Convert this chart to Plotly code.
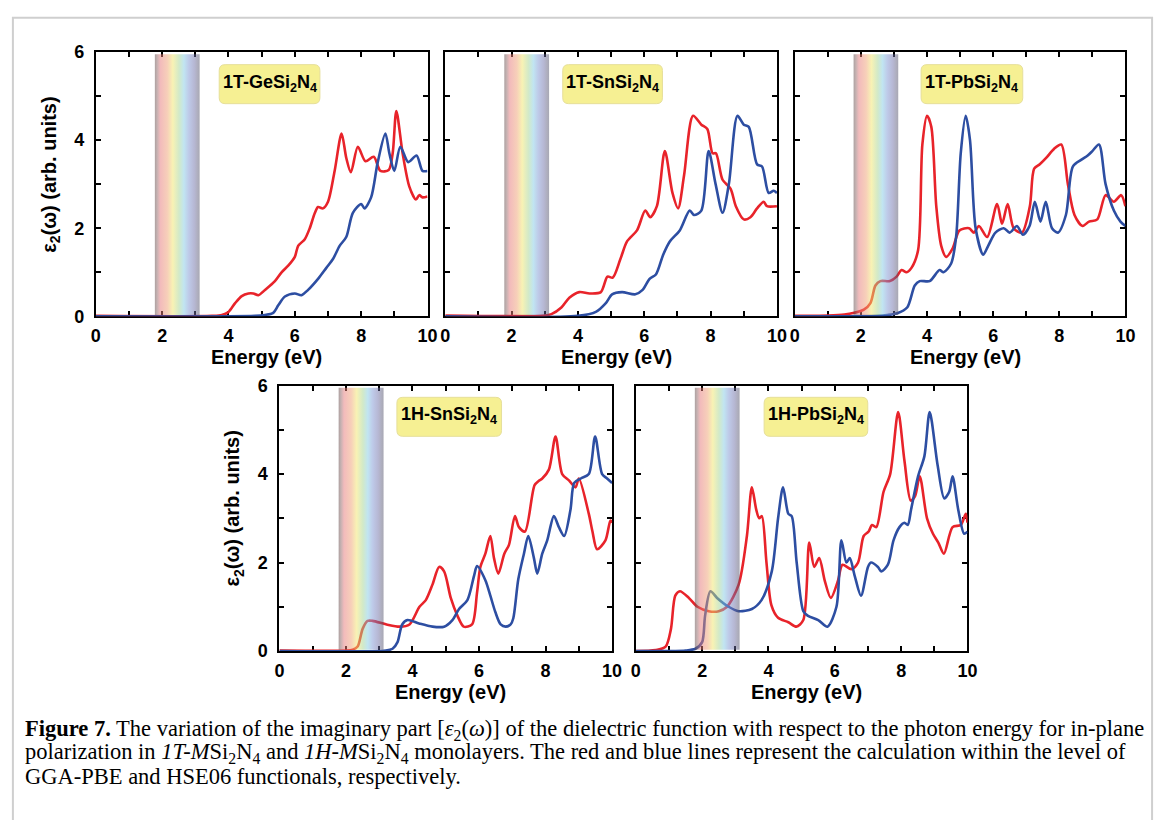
import plotly.graph_objects as go

# ---------------- data ----------------
energy_ticks = [0, 2, 4, 6, 8, 10]
eps_ticks = [0, 2, 4, 6]
panel_labels = ["1T-GeSi<sub>2</sub>N<sub>4</sub>", "1T-SnSi<sub>2</sub>N<sub>4</sub>",
                "1T-PbSi<sub>2</sub>N<sub>4</sub>", "1H-SnSi<sub>2</sub>N<sub>4</sub>",
                "1H-PbSi<sub>2</sub>N<sub>4</sub>"]
visible_band = [1.78, 3.13]   # eV, visible-light window

# 1T-GeSi2N4
ge1t_pbe_e = [0, 3.5, 3.8, 4.0, 4.2, 4.4, 4.6, 4.75, 4.9, 5.1, 5.4, 5.6, 5.8, 6.0, 6.1, 6.3, 6.45, 6.6, 6.7,
              6.85, 7.0, 7.2, 7.41, 7.55, 7.69, 7.9, 8.13, 8.38, 8.58, 8.83, 8.95, 9.06, 9.25, 9.45, 9.65,
              9.75, 9.85, 10.0]
ge1t_pbe_eps = [0.01, 0.01, 0.03, 0.1, 0.3, 0.46, 0.52, 0.52, 0.48, 0.6, 0.8, 1.0, 1.15, 1.35, 1.6, 1.75, 2.0,
                2.34, 2.48, 2.45, 2.6, 3.3, 4.15, 3.6, 3.27, 3.85, 3.52, 3.62, 3.3, 3.32, 3.7, 4.66, 3.7, 2.95,
                2.65, 2.75, 2.7, 2.72]
ge1t_hse_e = [0, 4.8, 5.1, 5.35, 5.5, 5.7, 6.0, 6.2, 6.4, 6.7, 6.95, 7.15, 7.35, 7.55, 7.75, 8.0, 8.1, 8.3,
              8.5, 8.73, 8.85, 9.0, 9.18, 9.42, 9.67, 9.85, 10.0]
ge1t_hse_eps = [0.0, 0.01, 0.03, 0.08, 0.25, 0.45, 0.52, 0.48, 0.6, 0.85, 1.1, 1.3, 1.6, 1.8, 2.35, 2.55, 2.45,
                2.7, 3.5, 4.15, 3.7, 3.3, 3.85, 3.5, 3.65, 3.3, 3.3]

# 1T-SnSi2N4
sn1t_pbe_e = [0, 3.0, 3.2, 3.5, 3.74, 4.04, 4.35, 4.69, 4.89, 5.05, 5.28, 5.48, 5.78, 6.03, 6.18, 6.38, 6.62,
              6.85, 7.02, 7.2, 7.47, 7.72, 7.9, 8.06, 8.16, 8.36, 8.6, 8.76, 9.0, 9.2, 9.4, 9.6, 9.7, 10.0]
sn1t_pbe_eps = [0.02, 0.02, 0.05, 0.2, 0.42, 0.55, 0.52, 0.55, 0.9, 0.88, 1.3, 1.7, 1.95, 2.4, 2.25, 2.5, 3.75,
                2.8, 2.45, 3.2, 4.55, 4.35, 4.25, 3.7, 3.7, 3.1, 2.9, 2.5, 2.2, 2.25, 2.45, 2.6, 2.5, 2.5]
sn1t_hse_e = [0, 4.0, 4.54, 4.84, 5.03, 5.33, 5.73, 5.95, 6.16, 6.35, 6.57, 6.77, 7.07, 7.37, 7.5, 7.72, 7.94,
              8.15, 8.36, 8.55, 8.81, 9.0, 9.15, 9.4, 9.55, 9.75, 9.9, 10.0]
sn1t_hse_eps = [0.0, 0.01, 0.1, 0.3, 0.5, 0.55, 0.5, 0.6, 0.85, 0.95, 1.4, 1.7, 1.95, 2.4, 2.3, 2.4, 3.75, 3.0,
                2.35, 3.0, 4.55, 4.35, 4.3, 3.45, 3.4, 2.8, 2.85, 2.8]

# 1T-PbSi2N4
pb1t_pbe_e = [0, 1.0, 1.5, 1.8, 2.09, 2.29, 2.44, 2.59, 2.88, 3.08, 3.23, 3.38, 3.53, 3.73, 3.86, 4.0, 4.13,
              4.28, 4.43, 4.58, 4.78, 4.98, 5.27, 5.42, 5.57, 5.82, 6.12, 6.27, 6.44, 6.62, 6.87, 7.11, 7.24,
              7.41, 7.61, 7.84, 8.06, 8.26, 8.46, 8.7, 8.9, 9.15, 9.4, 9.65, 9.87, 10.0]
pb1t_pbe_eps = [0.01, 0.02, 0.04, 0.08, 0.15, 0.3, 0.7, 0.8, 0.8, 0.9, 1.05, 1.0, 1.1, 1.5, 3.9, 4.55, 4.3, 2.5,
                1.6, 1.35, 1.55, 1.95, 2.0, 1.9, 2.05, 1.8, 2.55, 2.1, 2.55, 2.0, 1.9, 2.5, 3.35, 3.45, 3.6,
                3.8, 3.9, 3.0, 2.3, 2.05, 2.15, 2.2, 2.75, 2.6, 2.75, 2.5]
pb1t_hse_e = [0, 2.5, 2.8, 3.1, 3.4, 3.63, 3.78, 4.08, 4.38, 4.5, 4.73, 4.88, 5.02, 5.17, 5.3, 5.47, 5.7, 5.85,
              6.07, 6.32, 6.5, 6.72, 6.9, 7.1, 7.26, 7.43, 7.59, 7.78, 7.96, 8.2, 8.41, 8.66, 8.86, 9.0, 9.2,
              9.4, 9.65, 9.85, 10.0]
pb1t_hse_eps = [0.0, 0.01, 0.03, 0.07, 0.2, 0.7, 0.8, 0.8, 1.05, 1.0, 1.2, 1.8, 3.7, 4.55, 4.0, 2.0, 1.4, 1.6,
                1.9, 2.0, 1.9, 2.05, 1.85, 2.05, 2.6, 2.15, 2.6, 2.0, 1.9, 2.3, 3.4, 3.55, 3.65, 3.75, 3.9,
                3.0, 2.4, 2.15, 2.05]

# 1H-SnSi2N4
sn1h_pbe_e = [0, 2.0, 2.2, 2.35, 2.5, 2.65, 2.8, 3.22, 3.61, 3.91, 4.21, 4.4, 4.6, 4.8, 4.95, 5.15, 5.35, 5.54,
              5.79, 5.94, 6.04, 6.19, 6.34, 6.45, 6.58, 6.76, 6.9, 7.08, 7.2, 7.38, 7.67, 7.8, 7.9, 8.1, 8.3,
              8.5, 8.71, 8.9, 9.0, 9.3, 9.41, 9.55, 9.8, 9.95, 10.0]
sn1h_pbe_eps = [0.01, 0.01, 0.03, 0.1, 0.5, 0.68, 0.68, 0.6, 0.55, 0.6, 1.0, 1.15, 1.5, 1.9, 1.8, 1.2, 0.8, 0.55,
                0.6, 1.32, 1.9, 2.2, 2.6, 2.1, 1.75, 2.2, 2.4, 3.05, 2.8, 2.7, 3.75, 3.85, 3.9, 4.1, 4.85, 4.0,
                3.85, 3.7, 3.9, 3.1, 2.7, 2.3, 2.5, 2.95, 2.9]
sn1h_hse_e = [0, 3.2, 3.4, 3.55, 3.69, 3.85, 4.2, 4.6, 4.95, 5.2, 5.4, 5.65, 5.85, 5.94, 6.19, 6.34, 6.49, 6.65,
              6.8, 6.95, 7.03, 7.18, 7.35, 7.48, 7.65, 7.75, 7.9, 8.05, 8.25, 8.4, 8.56, 8.75, 8.86, 9.06,
              9.3, 9.49, 9.7, 9.85, 10.0]
sn1h_hse_eps = [0.0, 0.01, 0.05, 0.2, 0.6, 0.7, 0.62, 0.55, 0.55, 0.7, 0.95, 1.15, 1.7, 1.92, 1.6, 1.25, 0.88,
                0.6, 0.55, 0.6, 0.74, 1.62, 2.2, 2.6, 2.1, 1.75, 2.2, 2.5, 3.05, 2.8, 2.6, 3.2, 3.8, 3.9, 4.0,
                4.85, 4.0, 3.9, 3.8]

# 1H-PbSi2N4
pb1h_pbe_e = [0, 0.6, 0.9, 1.06, 1.19, 1.33, 1.6, 1.86, 2.2, 2.5, 2.75, 3.1, 3.35, 3.5, 3.63, 3.72, 3.8, 3.94,
              4.09, 4.29, 4.6, 4.84, 5.05, 5.23, 5.38, 5.53, 5.7, 5.88, 6.1, 6.23, 6.5, 6.7, 6.87, 7.02, 7.12,
              7.25, 7.47, 7.67, 7.91, 8.1, 8.29, 8.42, 8.56, 8.78, 8.96, 9.12, 9.29, 9.55, 9.8, 9.95, 10.0]
pb1h_pbe_eps = [0.0, 0.02, 0.1, 0.5, 1.25, 1.35, 1.2, 1.0, 0.9, 0.9, 1.0, 1.5, 2.6, 3.7, 3.2, 3.0, 3.05, 2.0,
                1.03, 0.75, 0.65, 0.55, 0.7, 2.45, 1.9, 2.1, 1.58, 1.2, 1.6, 1.95, 1.85, 2.0, 2.6, 2.7, 2.85,
                2.8, 3.6, 4.0, 5.4, 4.3, 3.4, 3.5, 3.95, 3.0, 2.65, 2.45, 2.2, 2.8, 2.85, 3.1, 2.9]
pb1h_hse_e = [0, 1.5, 1.8, 2.0, 2.09, 2.25, 2.45, 2.8, 3.1, 3.5, 3.79, 4.1, 4.29, 4.44, 4.6, 4.7, 4.85, 5.05,
              5.18, 5.5, 5.78, 6.05, 6.2, 6.35, 6.45, 6.6, 6.79, 7.0, 7.09, 7.3, 7.4, 7.6, 7.77, 7.95, 8.1,
              8.2, 8.3, 8.51, 8.7, 8.86, 9.1, 9.3, 9.45, 9.55, 9.72, 9.9, 10.0]
pb1h_hse_eps = [0.0, 0.01, 0.05, 0.2, 0.8, 1.35, 1.2, 1.0, 0.9, 0.95, 1.15, 1.8, 3.0, 3.7, 3.1, 3.05, 2.0, 0.9,
                0.8, 0.7, 0.55, 1.0, 2.5, 2.0, 2.1, 1.7, 1.25, 1.9, 2.0, 1.9, 1.8, 1.95, 2.5, 2.8, 2.9, 2.85,
                3.2, 3.95, 4.4, 5.4, 4.2, 3.45, 3.6, 3.95, 3.2, 2.65, 2.7]

series = [
    (ge1t_pbe_e, ge1t_pbe_eps, ge1t_hse_e, ge1t_hse_eps),
    (sn1t_pbe_e, sn1t_pbe_eps, sn1t_hse_e, sn1t_hse_eps),
    (pb1t_pbe_e, pb1t_pbe_eps, pb1t_hse_e, pb1t_hse_eps),
    (sn1h_pbe_e, sn1h_pbe_eps, sn1h_hse_e, sn1h_hse_eps),
    (pb1h_pbe_e, pb1h_pbe_eps, pb1h_hse_e, pb1h_hse_eps),
]

caption_lines = [
    "<b>Figure 7.</b> The variation of the imaginary part [<i>ε</i><sub>2</sub>(<i>ω</i>)] of the "
    "dielectric function with respect to the photon energy for in-plane",
    "polarization in <i>1T-M</i>Si<sub>2</sub>N<sub>4</sub> and <i>1H-M</i>Si<sub>2</sub>N<sub>4</sub> "
    "monolayers. The red and blue lines represent the calculation within the level of",
    "GGA-PBE and HSE06 functionals, respectively.",
]

# ---------------- layout geometry / style ----------------
W, H = 1168, 820
# plot-area boxes in pixels: (left, right, top, bottom)
boxes = [(92, 428, 43, 314), (446, 782, 43, 314), (800, 1135, 43, 314),
         (278, 615, 385, 657), (639, 975, 385, 657)]
ylabel_on = [True, False, False, True, False]
# label boxes (pixels): (left, right, top, bottom)
label_boxes = [(217, 319, 56, 96), (565, 666, 56, 96), (928, 1031, 56, 96),
               (397, 503, 397, 437), (769, 874, 397, 437)]
caption_y = [738, 762, 786]

RED = "#e8232a"
BLUE = "#2d4ea2"
FONT = "Liberation Sans"

band_scale = [[0.00, "rgba(90,65,65,0.5)"], [0.05, "rgba(140,100,100,0.5)"],
              [0.12, "rgba(229,118,120,0.5)"], [0.28, "rgba(239,160,115,0.5)"],
              [0.40, "rgba(241,229,105,0.5)"], [0.54, "rgba(165,212,145,0.5)"],
              [0.65, "rgba(130,202,228,0.5)"], [0.76, "rgba(125,148,210,0.5)"],
              [0.88, "rgba(110,112,168,0.5)"], [0.96, "rgba(92,92,122,0.5)"],
              [1.00, "rgba(80,80,105,0.5)"]]


def px(x):
    return x / W


def py(y):
    return 1 - y / H


fig = go.Figure()
layout = dict(width=W, height=H, margin=dict(l=0, r=0, t=0, b=0), autosize=False,
              paper_bgcolor="white", plot_bgcolor="white", showlegend=False)

annotations = []
shapes = []

for i, ((l, r, t, b), (pe, pv, he, hv)) in enumerate(zip(boxes, series)):
    k = "" if i == 0 else str(i + 1)
    xa, ya = "x" + k, "y" + k
    common = dict(showline=True, linecolor="black", linewidth=2, mirror="ticks",
                  ticks="inside", ticklen=5, tickwidth=2, tickcolor="black",
                  showgrid=False, zeroline=False, layer="below traces",
                  tickfont=dict(family=FONT, size=18, color="black", weight="bold"),
                  minor=dict(ticks="inside", ticklen=5, tickwidth=2, tickcolor="black",
                             dtick=1, showgrid=False))
    layout["xaxis" + k] = dict(common, domain=[px(l), px(r)], anchor=ya, range=[0, 10],
                               tickmode="array", tickvals=energy_ticks,
                               ticktext=[str(v) for v in energy_ticks], ticklabelstandoff=2)
    layout["yaxis" + k] = dict(common, domain=[py(b), py(t)], anchor=xa, range=[0, 6],
                               tickmode="array", tickvals=eps_ticks,
                               ticktext=[str(v) for v in eps_ticks],
                               showticklabels=ylabel_on[i], ticklabelstandoff=6)

    fig.add_trace(go.Scatter(x=pe, y=pv, mode="lines", xaxis=xa, yaxis=ya,
                             line=dict(color=RED, width=2.6, shape="spline", smoothing=0.8),
                             hoverinfo="skip"))
    fig.add_trace(go.Scatter(x=he, y=hv, mode="lines", xaxis=xa, yaxis=ya,
                             line=dict(color=BLUE, width=2.6, shape="spline", smoothing=0.8),
                             hoverinfo="skip"))
    # visible-light band drawn over the curves
    b0, b1 = visible_band
    fig.add_trace(go.Scatter(x=[b0, b1, b1, b0, b0], y=[0.03, 0.03, 5.95, 5.95, 0.03],
                             mode="lines", line=dict(width=0), fill="toself",
                             fillgradient=dict(type="horizontal", colorscale=band_scale),
                             xaxis=xa, yaxis=ya, hoverinfo="skip"))

    # x title
    annotations.append(dict(text="<b>Energy (eV)</b>", xref="paper", yref="paper",
                            x=px((l + r) / 2 + 5), y=py(b + 42), showarrow=False,
                            xanchor="center", yanchor="middle",
                            font=dict(family=FONT, size=20, color="black")))
    if ylabel_on[i]:
        annotations.append(dict(text="<b>ε<sub>2</sub>(ω) (arb. units)</b>", xref="paper",
                                yref="paper", x=px(l - 46), y=py((t + b) / 2 - 10),
                                textangle=-90, showarrow=False, xanchor="center",
                                yanchor="middle",
                                font=dict(family=FONT, size=20, color="black")))

    # panel label in rounded yellow box
    bl, br, bt, bb = label_boxes[i]
    rr = 6
    x0, x1 = px(bl), px(br)
    y0, y1 = py(bb), py(bt)
    rx, ry = rr / W, rr / H
    path = (f"M {x0+rx},{y1} L {x1-rx},{y1} Q {x1},{y1} {x1},{y1-ry} "
            f"L {x1},{y0+ry} Q {x1},{y0} {x1-rx},{y0} L {x0+rx},{y0} "
            f"Q {x0},{y0} {x0},{y0+ry} L {x0},{y1-ry} Q {x0},{y1} {x0+rx},{y1} Z")
    shapes.append(dict(type="path", path=path, xref="paper", yref="paper",
                       fillcolor="#f6f093", line=dict(color="#e6df9a", width=1),
                       layer="above"))
    annotations.append(dict(text="<b>" + panel_labels[i] + "</b>", xref="paper", yref="paper",
                            x=px((bl + br) / 2), y=py((bt + bb) / 2 - 1), showarrow=False,
                            xanchor="center", yanchor="middle",
                            font=dict(family=FONT, size=18, color="black")))

# outer frame
shapes.append(dict(type="rect", xref="paper", yref="paper", x0=px(8), x1=px(1162),
                   y0=py(840), y1=py(8), line=dict(color="#cfcfcf", width=2),
                   fillcolor="rgba(0,0,0,0)", layer="below"))

for line_text, yy in zip(caption_lines, caption_y):
    annotations.append(dict(text=line_text, xref="paper", yref="paper", x=px(18), y=py(yy),
                            xanchor="left", yanchor="middle", align="left", showarrow=False,
                            font=dict(family="Liberation Serif", size=22.5, color="black")))

layout["annotations"] = annotations
layout["shapes"] = shapes
fig.update_layout(**layout)

page_css = ("var s=document.createElement('style');"
            "s.textContent='html,body{margin:0!important;padding:0!important;overflow:hidden!important;"
            "width:1168px;height:820px;font-size:0;line-height:0}';"
            "document.head.appendChild(s);")
fig.write_html("out.html", config={"displayModeBar": False, "staticPlot": True},
               post_script=page_css)
